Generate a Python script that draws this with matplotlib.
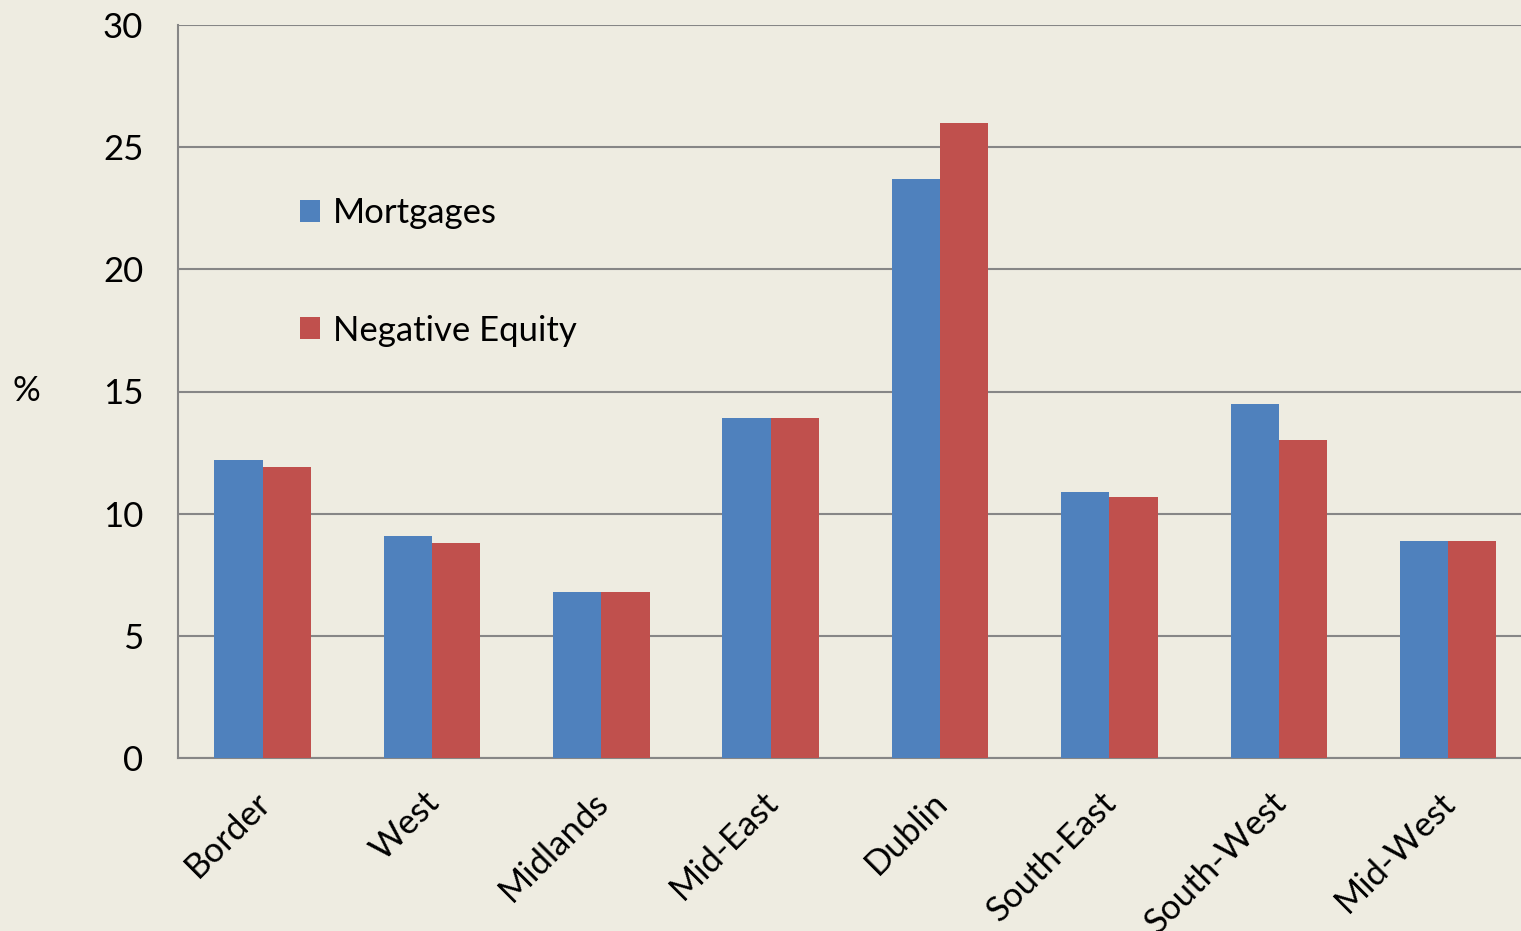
import matplotlib
matplotlib.use("Agg")
import matplotlib.pyplot as plt
import matplotlib.transforms as mtransforms
import numpy as np

# data
regions = ["Border", "West", "Midlands", "Mid-East", "Dublin",
           "South-East", "South-West", "Mid-West"]
mortgages = [12.2, 9.1, 6.8, 13.9, 23.7, 10.9, 14.5, 8.9]
negative_equity = [11.9, 8.8, 6.8, 13.9, 26.0, 10.7, 13.0, 8.9]

bg = "#EEECE1"
blue = "#4F81BD"
red = "#C0504D"
grid_col = "#868686"

plt.rcParams["font.family"] = ["Lato", "DejaVu Sans"]

fig = plt.figure(figsize=(15.21, 9.31), dpi=100, facecolor=bg)
ax = fig.add_axes([178 / 1521, 1 - 758 / 931, 1 - 178 / 1521, (758 - 25) / 931])
ax.set_facecolor(bg)

x = np.arange(len(regions))
w = 0.285
ax.bar(x - w / 2, mortgages, w, color=blue, label="Mortgages", zorder=3)
ax.bar(x + w / 2, negative_equity, w, color=red, label="Negative Equity", zorder=3)

ax.set_xlim(-0.5, 7.43)
ax.set_ylim(0, 30)
ax.set_yticks(range(0, 31, 5))
ax.yaxis.grid(True, color=grid_col, linewidth=1.5, zorder=0)
ax.set_axisbelow(True)

for s in ["top", "right"]:
    ax.spines[s].set_visible(False)
for s in ["left", "bottom"]:
    ax.spines[s].set_color(grid_col)
    ax.spines[s].set_linewidth(1.5)

ax.tick_params(length=0, labelsize=25)
ax.tick_params(axis="y", pad=25)
ax.set_xticks(x)
ax.set_xticklabels(regions, rotation=45, ha="right", va="top",
                   rotation_mode="anchor")
ax.tick_params(axis="x", pad=20)
shift = mtransforms.ScaledTranslation(-0.09, 0, fig.dpi_scale_trans)
for lab in ax.get_xticklabels():
    lab.set_transform(lab.get_transform() + shift)

fig.text(26 / 1521, 1 - 391 / 931, "%", fontsize=25, ha="center", va="center")

ax.legend(loc="upper left", bbox_to_anchor=(0.0905, 0.7655), frameon=False,
          fontsize=25, handlelength=0.6, handleheight=0.6,
          handletextpad=0.35, labelspacing=2.47, borderpad=0,
          borderaxespad=0)

fig.savefig("out.png", dpi=100, facecolor=bg)
